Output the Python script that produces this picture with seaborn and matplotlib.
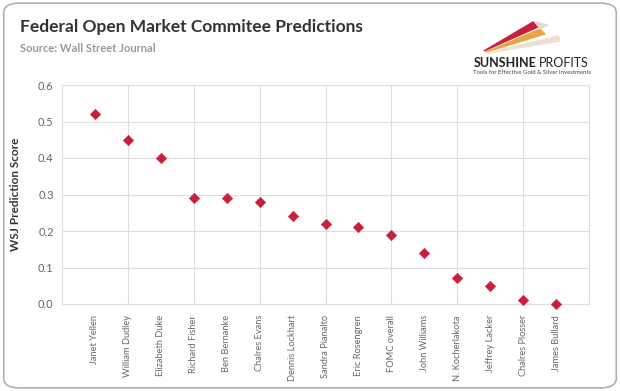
import numpy as np
import pandas as pd
import seaborn as sns
import matplotlib.pyplot as plt
from matplotlib.patches import FancyBboxPatch, Polygon

names = ["Janet Yellen", "William Dudley", "Elizabeth Duke", "Richard Fisher",
         "Ben Bernanke", "Chalres Evans", "Dennis Lockhart", "Sandra Pianalto",
         "Eric Rosengren", "FOMC overall", "John Williams", "N. Kocherlakota",
         "Jeffrey Lacker", "Chalres Plosser", "James Bullard"]
scores = [0.52, 0.45, 0.40, 0.29, 0.29, 0.28, 0.24, 0.22, 0.21, 0.19,
          0.14, 0.07, 0.05, 0.01, 0.00]
yticks = [0.0, 0.1, 0.2, 0.3, 0.4, 0.5, 0.6]

df = pd.DataFrame({"name": names, "score": scores})

sns.set_theme(style="white")
plt.rcParams['font.family'] = ['Lato', 'DejaVu Sans']

fig = plt.figure(figsize=(6.2, 3.91), dpi=100)
w, h = 620, 391
# rounded frame around the whole chart, kept behind the axes
frame = FancyBboxPatch((0.006, 0.008), 0.988, 0.984, boxstyle="round,pad=0,rounding_size=0.025",
                       transform=fig.transFigure, facecolor="white", edgecolor="#b0b0b0",
                       lw=1.2, zorder=-5)
fig.patches.append(frame)

ax = fig.add_axes([62/w, 1 - 304/h, (589-62)/w, (304-85)/h])
ax.set_zorder(2)
ax.patch.set_alpha(0)
sns.scatterplot(data=df, x="name", y="score", marker="D", s=28, color="#c8203a",
                edgecolor="#c8203a", ax=ax, zorder=3, clip_on=False)

ax.set_xlim(-1, len(names))
ax.set_ylim(0, 0.6)
ax.set_yticks(yticks)
ax.set_yticklabels([f"{v:.1f}" for v in yticks], fontsize=8, color="#666666")
ax.set_xticks(range(len(names)))
ax.set_xticklabels(names, rotation=90, fontsize=6.7, color="#666666")
ax.tick_params(axis="x", length=0, pad=8)
ax.tick_params(axis="y", length=0, pad=6)
ax.set_xlabel("")
ax.set_ylabel("WSJ Prediction Score", fontsize=8.5, fontweight="bold", color="#333333", labelpad=12)

# horizontal grid on every tick, vertical grid every second category
ax.yaxis.grid(True, color="#dddddd", lw=0.8)
ax.set_axisbelow(True)
for xv in np.arange(1, len(names), 2):
    ax.axvline(xv, color="#dddddd", lw=0.8, zorder=0)
for side in ax.spines.values():
    side.set_color("#dddddd")
    side.set_linewidth(0.8)

fig.text(20/w, 1 - 27/h, "Federal Open Market Commitee Predictions", fontsize=12.5,
         fontweight="bold", color="#333333", va="center")
fig.text(20/w, 1 - 48/h, "Source: Wall Street Journal", fontsize=8,
         fontweight="bold", color="#999999", va="center")

# logo
fig.text(537/w, 1 - 63/h, "SUNSHINE", fontsize=9, fontweight="bold", color="#222222",
         ha="right", va="center")
fig.text(539/w, 1 - 63/h, "PROFITS", fontsize=9, color="#222222", ha="left", va="center")
fig.text(532/w, 1 - 72/h, "Tools for Effective Gold & Silver Investments", fontsize=4.3,
         color="#444444", ha="center", va="center")
fig.patches.append(Polygon([(484/w, 1-51/h), (533/w, 1-22/h), (538/w, 1-27/h)],
                           closed=True, transform=fig.transFigure, color="#c8203a"))
fig.patches.append(Polygon([(486/w, 1-52/h), (540/w, 1-29/h), (545/w, 1-34/h)],
                           closed=True, transform=fig.transFigure, color="#e8a640"))
fig.patches.append(Polygon([(488/w, 1-53/h), (558/w, 1-36/h), (560/w, 1-41/h)],
                           closed=True, transform=fig.transFigure, color="#eee0d0"))
fig.patches.append(Polygon([(535/w, 1-22/h), (548/w, 1-25/h), (540/w, 1-29/h)],
                           closed=True, transform=fig.transFigure, color="#f2d4c8"))

fig.savefig("out.png", dpi=100)
